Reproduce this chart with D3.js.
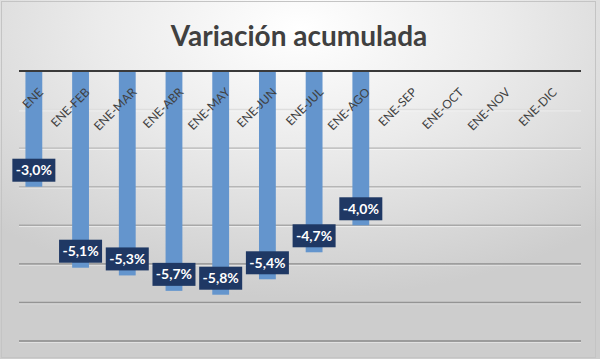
<!DOCTYPE html>
<html>
<head>
<meta charset="utf-8">
<script src="https://cdn.jsdelivr.net/npm/d3@7"></script>
<style>
html,body{margin:0;padding:0;background:#fff;}
svg{display:block;}
</style>
</head>
<body>
<svg id="chart" width="600" height="359"></svg>
<script>
const title = "Variación acumulada";
const categories = ["ENE","ENE-FEB","ENE-MAR","ENE-ABR","ENE-MAY","ENE-JUN","ENE-JUL","ENE-AGO","ENE-SEP","ENE-OCT","ENE-NOV","ENE-DIC"];
const values = [-3.0,-5.1,-5.3,-5.7,-5.8,-5.4,-4.7,-4.0,null,null,null,null];
const yTicks = [0,-1,-2,-3,-4,-5,-6,-7];

const W = 600, H = 359;
const svg = d3.select("#chart");
const defs = svg.append("defs");
const bg = defs.append("radialGradient").attr("id","bg")
  .attr("cx","50%").attr("cy","8%").attr("r","75%")
  .attr("fx","50%").attr("fy","8%");
bg.append("stop").attr("offset","0%").attr("stop-color","#ffffff");
bg.append("stop").attr("offset","45%").attr("stop-color","#ebebeb");
bg.append("stop").attr("offset","100%").attr("stop-color","#cdcdcd");

svg.append("rect").attr("x",0).attr("y",0).attr("width",W).attr("height",H).attr("fill","url(#bg)");
svg.append("rect").attr("x",1.5).attr("y",1.5).attr("width",594).attr("height",H-3)
  .attr("fill","none").attr("stroke","#c4c4c4").attr("stroke-width",1);

const plotL = 19, plotR = 581;
const x = d3.scaleBand().domain(categories).range([10.5, 571]).paddingInner(0.64).paddingOuter(0.32);
const y = d3.scaleLinear().domain([0,-7]).range([71, 341]);
const gridColor = d3.scaleLinear().domain([-1,-2,-4,-7]).range(["#dedede","#c4c4c4","#a8a8a8","#8a8a8a"]);

// gridlines
const grid = svg.append("g");
const gTicks = yTicks.filter(d=>d!==0);
grid.selectAll("line.sh").data(gTicks).join("line").attr("class","sh")
  .attr("x1",plotL).attr("x2",plotR)
  .attr("y1",d=>y(d)+1.3).attr("y2",d=>y(d)+1.3)
  .attr("stroke","#ffffff").attr("stroke-opacity",0.5).attr("stroke-width",1);
grid.selectAll("line.g").data(gTicks).join("line").attr("class","g")
  .attr("x1",plotL).attr("x2",plotR)
  .attr("y1",d=>y(d)).attr("y2",d=>y(d))
  .attr("stroke",d=>gridColor(d)).attr("stroke-width",1.6);

// bars
const data = categories.map((c,i)=>({c, v:values[i]})).filter(d=>d.v!==null);
svg.append("g").selectAll("rect").data(data).join("rect")
  .attr("x",d=>x(d.c)).attr("width",x.bandwidth())
  .attr("y",y(0)).attr("height",d=>y(d.v)-y(0))
  .attr("fill","#6495cd");

// zero axis line
svg.append("line").attr("x1",plotL).attr("x2",plotR).attr("y1",y(0)).attr("y2",y(0))
  .attr("stroke","#3a3a3a").attr("stroke-width",2.2);

// category labels (rotated)
const cat = svg.append("g").selectAll("g").data(categories).join("g")
  .attr("transform",d=>"translate(" + (x(d)+x.bandwidth()/2+10) + "," + (y(0)+22) + ")");
cat.append("g").attr("transform","rotate(-45)")
  .append("text")
  .attr("text-anchor","end")
  .attr("font-family","Lato, 'Open Sans', sans-serif")
  .attr("font-size",12).attr("fill","#404040")
  .text(d=>d);

// data labels
const lbl = svg.append("g").selectAll("g").data(data).join("g")
  .attr("transform",d=>`translate(${x(d.c)+x.bandwidth()/2},${y(d.v)-5-11.5})`);
lbl.append("rect").attr("x",-21.5).attr("y",-11.5).attr("width",43).attr("height",23).attr("fill","#1f3864");
lbl.append("text").attr("text-anchor","middle").attr("dy","0.36em")
  .attr("font-family","Lato, 'Open Sans', sans-serif").attr("font-weight",700)
  .attr("font-size",14).attr("fill","#ffffff")
  .text(d=>d3.format(".1f")(d.v).replace(".",",").replace("−","-")+"%");

// title
svg.append("text").attr("x",299).attr("y",46).attr("text-anchor","middle")
  .attr("font-family","Lato, 'Open Sans', sans-serif").attr("font-weight",700)
  .attr("font-size",28).attr("fill","#404040").text(title);
</script>
</body>
</html>
